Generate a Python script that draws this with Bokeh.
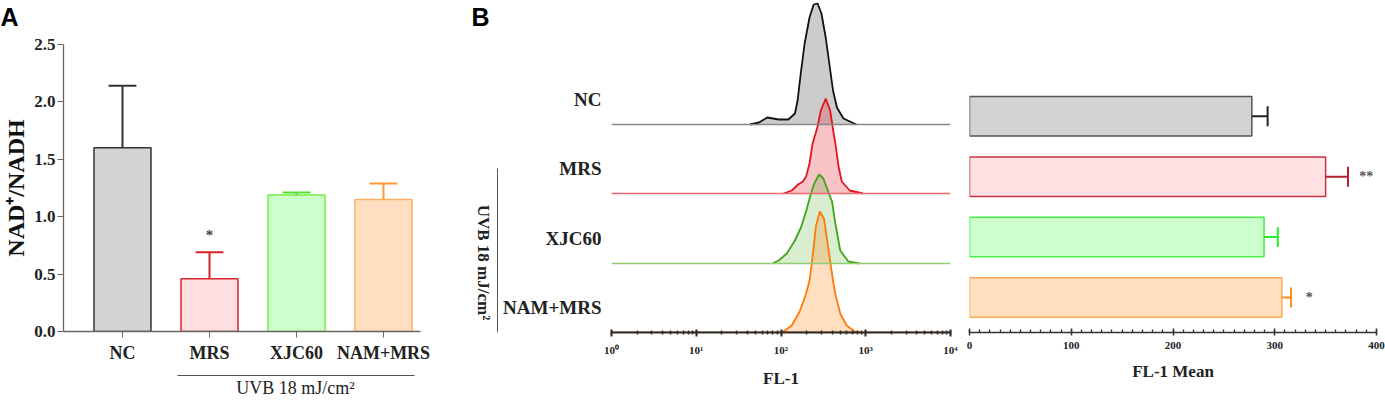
import math
from bokeh.plotting import figure
from bokeh.models import (Range1d, FixedTicker, Span, LogTicker,
                          SingleIntervalTicker, PrintfTickFormatter)
from bokeh.layouts import row, column
from bokeh.embed import file_html
from bokeh.resources import INLINE
from bokeh.core.properties import value

# ---------------- data ----------------
categories = ["NC", "MRS", "XJC60", "NAM+MRS"]

# Panel A: NAD+/NADH ratio
nad_ratio = [1.60, 0.46, 1.19, 1.15]
nad_sd = [0.54, 0.23, 0.02, 0.14]
nad_sig = ["", "*", "", ""]
nad_ticks = [0.0, 0.5, 1.0, 1.5, 2.0, 2.5]

# Panel B (right): FL-1 mean
fl1_mean = [277.5, 350.0, 289.5, 307.0]
fl1_sd = [15.5, 22.0, 13.5, 9.0]
fl1_sig = ["", "**", "", "*"]
fl1_ticks = [0, 100, 200, 300, 400]

# Panel B (left): FL-1 histograms (FL-1 value, count)
decades = [1, 10, 100, 1000, 10000]
decade_labels = ["10⁰", "10¹", "10²", "10³", "10⁴"]

nc_fl = [43, 55, 69, 94, 122, 146, 157, 171, 190, 217, 243, 270, 300, 337, 377, 411, 457, 546, 774]
nc_cnt = [0, 2, 7, 5, 5, 11, 24, 51, 81, 107, 120, 121, 111, 87, 57, 34, 17, 6, 0]

mrs_fl = [107, 134, 159, 181, 198, 217, 236, 270, 295, 337, 380, 418, 438, 478, 521, 648, 925]
mrs_cnt = [0, 3, 9, 12, 17, 30, 50, 67, 83, 95, 83, 60, 50, 27, 12, 3, 0]

xjc_fl = [79, 94, 117, 146, 174, 199, 222, 247, 282, 316, 367, 400, 438, 500, 622, 847]
xjc_cnt = [0, 3, 10, 23, 37, 53, 68, 80, 89, 85, 70, 62, 40, 13, 2, 0]

nam_fl = [103, 134, 166, 198, 217, 236, 258, 287, 321, 351, 384, 411, 437, 500, 596, 741, 847]
nam_cnt = [0, 7, 21, 39, 52, 76, 106, 121, 114, 92, 69, 52, 39, 19, 7, 1, 0]

hist_fl = [nc_fl, mrs_fl, xjc_fl, nam_fl]
hist_cnt = [nc_cnt, mrs_cnt, xjc_cnt, nam_cnt]

uvb_text = "UVB 18 mJ/cm²"

# ---------------- styles ----------------
SERIF = "Liberation Serif"
SANS = "Liberation Sans"
A_FILL = ["#d4d4d4", "#ffdfe0", "#ccffcc", "#ffdfbf"]
A_LINE = ["#333333", "#d6242c", "#77ee44", "#ffad60"]
A_ERR = ["#333333", "#d6242c", "#55dd33", "#ff9933"]

H_LINE = ["#111111", "#e3141f", "#3fa51a", "#ff7a0a"]
H_FILL = ["#808080", "#e3141f", "#3fa51a", "#ff7a0a"]
H_ALPHA = [0.4, 0.25, 0.2, 0.25]
H_BASE = ["#888888", "#ee6a70", "#8fcf6f", "#332a22"]
H_OFFSET = [208, 139, 69, 0]

B_FILL = ["#d3d3d3", "#ffe0e3", "#ccffcc", "#ffdfc0"]
B_LINE = ["#555555", "#c4343f", "#44ee44", "#ffa955"]
B_ERR = ["#222222", "#b5202c", "#22ee22", "#ff8c1a"]


def clean(p):
    p.xgrid.visible = False
    p.ygrid.visible = False
    p.outline_line_color = None
    p.background_fill_color = "white"
    p.border_fill_color = "white"


def text_fig(w, h, top=0, bottom=0):
    """Blank figure holding panel letters and group captions (pixel coords in its frame)."""
    fh = h - top - bottom
    t = figure(width=w, height=h, x_range=Range1d(0, w), y_range=Range1d(fh, 0),
               x_axis_location=None, y_axis_location=None, output_backend="svg",
               toolbar_location=None, min_border_left=0, min_border_right=0,
               min_border_top=top, min_border_bottom=bottom)
    t.grid.visible = False
    t.outline_line_color = None
    return t


# ---------------- Panel A ----------------
xs = list(range(len(categories)))
pa = figure(width=412, height=331, x_range=Range1d(-0.678, 3.425), y_range=Range1d(0, 2.5),
            output_backend="svg", toolbar_location=None,
            min_border_left=35, min_border_right=20, min_border_top=10, min_border_bottom=34)
clean(pa)
pa.vbar(x=xs, top=nad_ratio, width=0.655, fill_color=A_FILL, line_color=A_LINE, line_width=1.5)
tops = [m + s for m, s in zip(nad_ratio, nad_sd)]
pa.segment(x0=xs, y0=nad_ratio, x1=xs, y1=tops, line_color=A_ERR, line_width=2)
pa.segment(x0=[x - 0.16 for x in xs], y0=tops, x1=[x + 0.16 for x in xs], y1=tops,
           line_color=A_ERR, line_width=2)
pa.text(x=xs, y=[t + 0.15 for t in tops], text=nad_sig, text_align="center",
        text_baseline="alphabetic", text_font=value(SERIF), text_font_style="bold",
        text_font_size="15px", text_color="#444444")

pa.yaxis.ticker = FixedTicker(ticks=nad_ticks)
pa.yaxis.formatter = PrintfTickFormatter(format="%.1f")
pa.yaxis.minor_tick_line_color = None
pa.yaxis.major_tick_out = 6
pa.yaxis.major_tick_in = 0
pa.yaxis.axis_line_color = "#666666"
pa.yaxis.major_tick_line_color = "#666666"
pa.yaxis.axis_line_width = 1.3
pa.yaxis.major_label_text_font = SERIF
pa.yaxis.major_label_text_font_style = "bold"
pa.yaxis.major_label_text_font_size = "17px"
pa.yaxis.major_label_text_color = "#222222"
pa.yaxis.major_label_standoff = 2

pa.xaxis.ticker = FixedTicker(ticks=xs)
pa.xaxis.major_label_overrides = {i: c for i, c in zip(xs, categories)}
pa.xaxis.minor_tick_line_color = None
pa.xaxis.major_tick_out = 6
pa.xaxis.major_tick_in = 0
pa.xaxis.axis_line_color = "#666666"
pa.xaxis.major_tick_line_color = "#666666"
pa.xaxis.axis_line_width = 1.3
pa.xaxis.major_label_text_font = SERIF
pa.xaxis.major_label_text_font_style = "bold"
pa.xaxis.major_label_text_font_size = "18px"
pa.xaxis.major_label_text_color = "#222222"
pa.xaxis.major_label_standoff = 5

# strip above panel A: panel letter
topA = text_fig(440, 34)
topA.text(x=[0], y=[16], text=["A"], text_align="left", text_baseline="alphabetic",
          text_font=value(SANS), text_font_style="bold", text_font_size="25px",
          text_color="#000000")

# left strip of panel A: y-axis title (frame aligned with panel A frame, y from 44 to 331)
tA = text_fig(28, 331, top=10, bottom=34)
tA.text(x=[15], y=[143.5], text=["NAD⁺/NADH"], angle=math.pi / 2, text_align="center",
        text_baseline="middle", text_font=value(SERIF), text_font_style="bold",
        text_font_size="24px", text_color="#111111")

# strip under panel A: UVB group bracket
bA = text_fig(440, 38)
bA.segment(x0=[177], y0=[10], x1=[414], y1=[10], line_color="#555555", line_width=1)
bA.text(x=[295], y=[22], text=[uvb_text], text_align="center", text_baseline="middle",
        text_font=value(SERIF), text_font_size="18px", text_color="#222222")

# ---------------- Panel B histograms ----------------
ph = figure(width=460, height=403, x_axis_type="log", x_range=Range1d(1, 10000),
            y_range=Range1d(0, 332), output_backend="svg", toolbar_location=None,
            min_border_left=101, min_border_right=10, min_border_top=0, min_border_bottom=71)
clean(ph)
for k in range(len(categories)):
    off = H_OFFSET[k]
    ph.add_layout(Span(location=off, dimension="width", line_color=H_BASE[k], line_width=1.3))
    ys = [off + c for c in hist_cnt[k]]
    ph.varea(x=hist_fl[k], y1=[off] * len(ys), y2=ys, fill_color=H_FILL[k], fill_alpha=H_ALPHA[k])
    ph.line(x=hist_fl[k], y=ys, line_color=H_LINE[k], line_width=1.8)

ph.xaxis.ticker = LogTicker(num_minor_ticks=10)
ph.xaxis.major_label_overrides = {d: l for d, l in zip(decades, decade_labels)}
ph.xaxis.axis_line_color = "#332a22"
ph.xaxis.axis_line_width = 2
ph.xaxis.major_tick_line_color = "#332a22"
ph.xaxis.major_tick_line_width = 2
ph.xaxis.minor_tick_line_color = "#332a22"
ph.xaxis.minor_tick_line_width = 1.5
ph.xaxis.major_tick_in = 3
ph.xaxis.major_tick_out = 4
ph.xaxis.minor_tick_in = 2
ph.xaxis.minor_tick_out = 2
ph.xaxis.major_label_text_font = SERIF
ph.xaxis.major_label_text_font_style = "bold"
ph.xaxis.major_label_text_font_size = "11px"
ph.xaxis.major_label_text_color = "#222222"
ph.xaxis.major_label_standoff = 7
ph.xaxis.axis_label = "FL-1"
ph.xaxis.axis_label_text_font = SERIF
ph.xaxis.axis_label_text_font_style = "bold"
ph.xaxis.axis_label_text_font_size = "17px"
ph.xaxis.axis_label_text_color = "#222222"
ph.xaxis.axis_label_standoff = 10

label_pos = [off + 25 for off in H_OFFSET]
ph.yaxis.ticker = FixedTicker(ticks=label_pos)
ph.yaxis.major_label_overrides = {y: c for y, c in zip(label_pos, categories)}
ph.yaxis.axis_line_color = None
ph.yaxis.major_tick_line_color = None
ph.yaxis.minor_tick_line_color = None
ph.yaxis.major_label_text_font = SERIF
ph.yaxis.major_label_text_font_style = "bold"
ph.yaxis.major_label_text_font_size = "19px"
ph.yaxis.major_label_text_color = "#222222"
ph.yaxis.major_label_standoff = 4

# left strip of panel B (frame aligned with histogram frame, y from 0 to 332)
tH = text_fig(60, 403, top=0, bottom=71)
tH.text(x=[31], y=[16], text=["B"], text_align="left", text_baseline="alphabetic",
        text_font=value(SANS), text_font_style="bold", text_font_size="25px",
        text_color="#000000")
tH.text(x=[43], y=[262], text=[uvb_text], angle=-math.pi / 2, text_align="center",
        text_baseline="middle", text_font=value(SERIF), text_font_style="bold",
        text_font_size="17px", text_color="#222222")
tH.segment(x0=[57], y0=[168], x1=[57], y1=[332], line_color="#555555", line_width=1)

# ---------------- Panel B bars ----------------
yb = [len(categories) - 1 - i for i in range(len(categories))]
pb = figure(width=425, height=403, x_range=Range1d(0, 400), y_range=Range1d(-0.579, 4.917),
            output_backend="svg", toolbar_location=None,
            min_border_left=9, min_border_right=9, min_border_top=0, min_border_bottom=71)
clean(pb)
pb.hbar(y=yb, left=0, right=fl1_mean, height=0.654, fill_color=B_FILL, line_color=B_LINE,
        line_width=1.5)
etop = [m + s for m, s in zip(fl1_mean, fl1_sd)]
pb.segment(x0=fl1_mean, y0=yb, x1=etop, y1=yb, line_color=B_ERR, line_width=2)
pb.segment(x0=etop, y0=[y - 0.165 for y in yb], x1=etop, y1=[y + 0.165 for y in yb],
           line_color=B_ERR, line_width=2)
pb.text(x=[t + 18 for t in etop], y=yb, text=fl1_sig, text_align="center",
        text_baseline="middle", text_font=value(SERIF), text_font_style="bold",
        text_font_size="14px", text_color="#555555")
pb.yaxis.visible = False
pb.xaxis.ticker = SingleIntervalTicker(interval=100, num_minor_ticks=10)
pb.xaxis.axis_line_color = "#333333"
pb.xaxis.axis_line_width = 1.5
pb.xaxis.major_tick_line_color = "#333333"
pb.xaxis.major_tick_line_width = 1.5
pb.xaxis.minor_tick_line_color = "#333333"
pb.xaxis.minor_tick_line_width = 1.3
pb.xaxis.major_tick_in = 4
pb.xaxis.major_tick_out = 3
pb.xaxis.minor_tick_in = 3
pb.xaxis.minor_tick_out = 0
pb.xaxis.major_label_text_font = SERIF
pb.xaxis.major_label_text_font_style = "bold"
pb.xaxis.major_label_text_font_size = "11px"
pb.xaxis.major_label_text_color = "#222222"
pb.xaxis.major_label_standoff = 6
pb.xaxis.axis_label = "FL-1 Mean"
pb.xaxis.axis_label_text_font = SERIF
pb.xaxis.axis_label_text_font_style = "bold"
pb.xaxis.axis_label_text_font_size = "17px"
pb.xaxis.axis_label_text_color = "#222222"
pb.xaxis.axis_label_standoff = 10

layout = row(column(topA, row(tA, pa), bA), tH, ph, pb)
open("out.html", "w").write(file_html(layout, INLINE, "NAD+/NADH and FL-1"))
